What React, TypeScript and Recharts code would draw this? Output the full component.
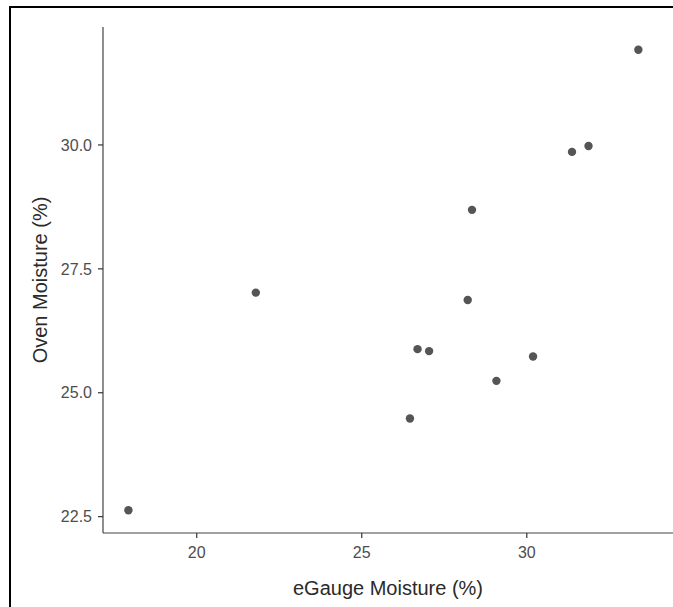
import { ScatterChart, Scatter, XAxis, YAxis, Label } from 'recharts';

// eGauge reading vs oven-dried reading, both in %
const eGaugeMoisture = [17.93, 21.79, 26.46, 26.69, 27.04, 28.21, 28.34, 29.08, 30.19, 31.37, 31.87, 33.38];
const ovenMoisture = [22.63, 27.02, 24.48, 25.88, 25.84, 26.87, 28.69, 25.24, 25.73, 29.86, 29.98, 31.92];
const xTicks = [20, 25, 30];
const yTicks = [22.5, 25, 27.5, 30];

const points = eGaugeMoisture.map((x, i) => ({ x, y: ovenMoisture[i] }));

const FONT = '"Liberation Sans", Arial, Helvetica, sans-serif';

const Dot = (props: any) => {
  const { cx, cy } = props;
  if (cx == null || cy == null) return null;
  return <circle cx={cx} cy={cy} r={4.2} fill="#555555" />;
};

export default function App() {
  return (
    <div style={{ position: 'absolute', left: 0, top: 0, width: 673, height: 607, overflow: 'hidden', background: '#fff' }}>
      <div
        style={{
          position: 'absolute',
          left: 9,
          top: 6,
          width: 700,
          height: 700,
          borderLeft: '2px solid #000',
          borderTop: '2px solid #000',
        }}
      />
      <ScatterChart
        width={673}
        height={607}
        margin={{ top: 27, right: 0, left: 0, bottom: 0 }}
        style={{ position: 'absolute', left: 0, top: 0, fontFamily: FONT }}
      >
        <XAxis
          type="number"
          dataKey="x"
          domain={[17.16, 34.43]}
          ticks={xTicks}
          height={74}
          tickSize={5}
          tickMargin={9}
          axisLine={{ stroke: '#444', strokeWidth: 1.2 }}
          tickLine={{ stroke: '#333', strokeWidth: 1.2 }}
          tick={{ fill: '#4d4d4d', fontSize: 16, fontFamily: FONT }}
        >
          <Label
            value="eGauge Moisture (%)"
            position="insideBottom"
            offset={12}
            style={{ fill: '#2a2a2a', fontSize: 20, fontFamily: FONT }}
          />
        </XAxis>
        <YAxis
          type="number"
          dataKey="y"
          domain={[22.17, 32.38]}
          ticks={yTicks}
          width={103}
          tickSize={5}
          tickMargin={6}
          tickFormatter={(v: number) => v.toFixed(1)}
          axisLine={{ stroke: '#444', strokeWidth: 1.2 }}
          tickLine={{ stroke: '#333', strokeWidth: 1.2 }}
          tick={{ fill: '#4d4d4d', fontSize: 16, fontFamily: FONT }}
        >
          <Label
            value="Oven Moisture (%)"
            angle={-90}
            position="insideLeft"
            offset={40}
            style={{ textAnchor: 'middle', fill: '#2a2a2a', fontSize: 20, fontFamily: FONT }}
          />
        </YAxis>
        <Scatter data={points} shape={<Dot />} isAnimationActive={false} />
      </ScatterChart>
    </div>
  );
}
